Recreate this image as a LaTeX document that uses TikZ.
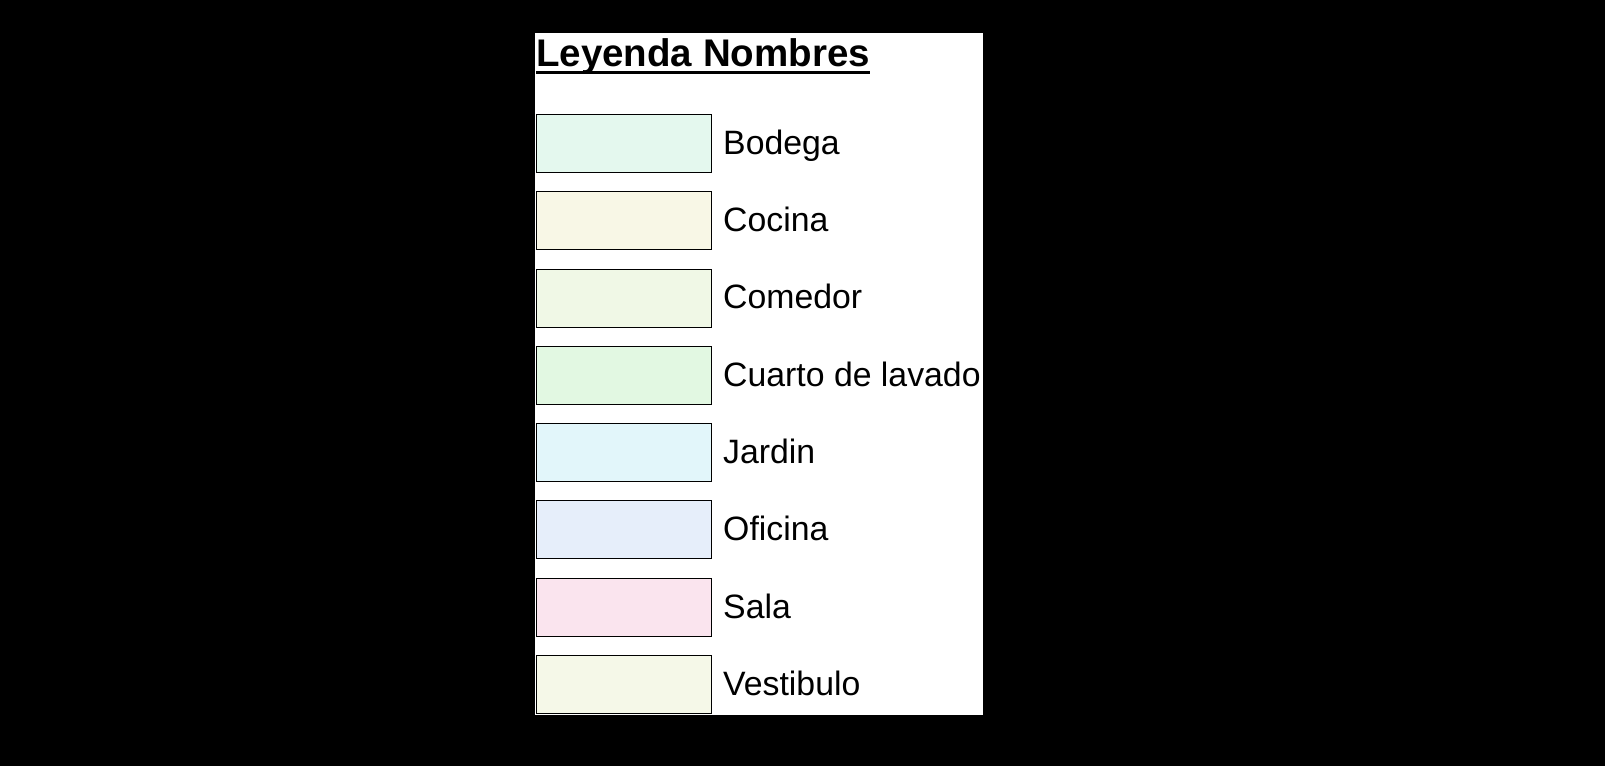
\documentclass[tikz,border=0pt]{standalone}
\usepackage{fontspec}
\setmainfont{Liberation Sans}
\usetikzlibrary{positioning}
\definecolor{cBodega}{RGB}{228,248,238}
\definecolor{cCocina}{RGB}{248,247,230}
\definecolor{cComedor}{RGB}{240,248,230}
\definecolor{cLavado}{RGB}{226,248,226}
\definecolor{cJardin}{RGB}{226,246,250}
\definecolor{cOficina}{RGB}{230,238,250}
\definecolor{cSala}{RGB}{250,228,238}
\definecolor{cVestibulo}{RGB}{245,248,232}

\begin{document}
\begin{tikzpicture}[
  x=1pt, y=1pt,
  node distance=19.3pt,
  swatch/.style={rectangle, draw=black, line width=0.8pt, minimum width=175pt, minimum height=58pt, inner sep=0pt, outer sep=0pt},
  lbl/.style={anchor=base west, inner sep=0pt, font=\fontsize{33.8}{38}\selectfont}
]
\useasboundingbox (0,0) rectangle (1605,-766);
\fill[black] (0,0) rectangle (1605,-766);
\fill[white] (535,-33.3) rectangle (983.3,-715);

% title
\node[anchor=base west, inner sep=0pt, font=\fontsize{38.5}{43}\selectfont\bfseries] (title) at (536,-66.5) {Leyenda Nombres};
\draw[line width=3.5pt] ([yshift=-6pt]title.base west) -- ([yshift=-6pt]title.base east);

% swatches
\node[swatch, fill=cBodega, anchor=north west] (bodega) at (536,-114.3) {};
\node[swatch, fill=cCocina, below=of bodega] (cocina) {};
\node[swatch, fill=cComedor, below=of cocina] (comedor) {};
\node[swatch, fill=cLavado, below=of comedor] (lavado) {};
\node[swatch, fill=cJardin, below=of lavado] (jardin) {};
\node[swatch, fill=cOficina, below=of jardin] (oficina) {};
\node[swatch, fill=cSala, below=of oficina] (sala) {};
\node[swatch, fill=cVestibulo, below=of sala] (vestibulo) {};

% names
\node[lbl] (bodegaTxt) at ([xshift=12pt, yshift=-11pt]bodega.east) {Bodega};
\node[lbl] (cocinaTxt) at ([xshift=12pt, yshift=-11pt]cocina.east) {Cocina};
\node[lbl] (comedorTxt) at ([xshift=12pt, yshift=-11pt]comedor.east) {Comedor};
\node[lbl] (lavadoTxt) at ([xshift=12pt, yshift=-11pt]lavado.east) {Cuarto de lavado};
\node[lbl] (jardinTxt) at ([xshift=12pt, yshift=-11pt]jardin.east) {Jardin};
\node[lbl] (oficinaTxt) at ([xshift=12pt, yshift=-11pt]oficina.east) {Oficina};
\node[lbl] (salaTxt) at ([xshift=12pt, yshift=-11pt]sala.east) {Sala};
\node[lbl] (vestibuloTxt) at ([xshift=12pt, yshift=-11pt]vestibulo.east) {Vestibulo};

\end{tikzpicture}
\end{document}
